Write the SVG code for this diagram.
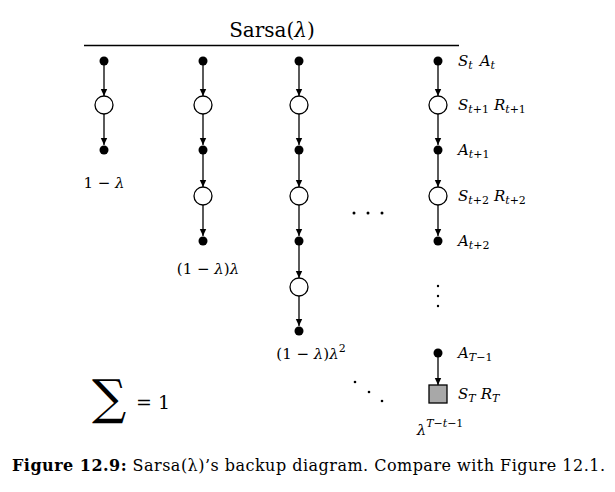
<svg xmlns="http://www.w3.org/2000/svg" width="615" height="492" viewBox="0 0 615 492">
<style>
.dot{fill:#000}
.st{fill:#fff;stroke:#000;stroke-width:1.3}
.term{fill:#a8a8a8;stroke:#000;stroke-width:1.3}
.edge{stroke:#000;stroke-width:1.3;fill:none;marker-end:url(#ah)}
text{font-family:"DejaVu Serif","Liberation Serif",serif;fill:#000}
.lab{font-size:15px}
.m{font-style:italic}
.sub{font-size:11px;font-style:italic}
.subr{font-size:11px}
</style>
<defs>
<marker id="ah" markerWidth="8" markerHeight="8" refX="7" refY="4" orient="auto" markerUnits="userSpaceOnUse">
<path d="M0,0.8 L7,4 L0,7.2 Z" fill="#000"/>
</marker>
</defs>

<text x="272" y="37" font-size="20" text-anchor="middle">Sarsa(<tspan class="m">λ</tspan>)</text>
<line x1="84" y1="45.5" x2="459" y2="45.5" stroke="#000" stroke-width="1.3"/>

<g id="connectors">
<line class="edge" x1="104" y1="65" x2="104" y2="96"/>
<line class="edge" x1="104" y1="114" x2="104" y2="145"/>
<line class="edge" x1="203" y1="65" x2="203" y2="96"/>
<line class="edge" x1="203" y1="114" x2="203" y2="145"/>
<line class="edge" x1="203" y1="154" x2="203" y2="187"/>
<line class="edge" x1="203" y1="205" x2="203" y2="236"/>
<line class="edge" x1="299" y1="65" x2="299" y2="96"/>
<line class="edge" x1="299" y1="114" x2="299" y2="145"/>
<line class="edge" x1="299" y1="154" x2="299" y2="187"/>
<line class="edge" x1="299" y1="205" x2="299" y2="236"/>
<line class="edge" x1="299" y1="245" x2="299" y2="278"/>
<line class="edge" x1="299" y1="296" x2="299" y2="326"/>
<line class="edge" x1="438" y1="65" x2="438" y2="96"/>
<line class="edge" x1="438" y1="114" x2="438" y2="145"/>
<line class="edge" x1="438" y1="154" x2="438" y2="187"/>
<line class="edge" x1="438" y1="205" x2="438" y2="236"/>
<line class="edge" x1="438" y1="357" x2="438" y2="385"/>
</g>

<g id="col1">
<circle class="dot" cx="104" cy="61" r="4.5"/>
<circle class="st" cx="104" cy="105" r="9"/>
<circle class="dot" cx="104" cy="150" r="4.5"/>
<text class="lab" x="104" y="188" text-anchor="middle">1 − <tspan class="m">λ</tspan></text>
</g>

<g id="col2">
<circle class="dot" cx="203" cy="61" r="4.5"/>
<circle class="st" cx="203" cy="105" r="9"/>
<circle class="dot" cx="203" cy="150" r="4.5"/>
<circle class="st" cx="203" cy="196" r="9"/>
<circle class="dot" cx="203" cy="241" r="4.5"/>
<text class="lab" x="208" y="274" text-anchor="middle">(1 − <tspan class="m">λ</tspan>)<tspan class="m">λ</tspan></text>
</g>

<g id="col3">
<circle class="dot" cx="299" cy="61" r="4.5"/>
<circle class="st" cx="299" cy="105" r="9"/>
<circle class="dot" cx="299" cy="150" r="4.5"/>
<circle class="st" cx="299" cy="196" r="9"/>
<circle class="dot" cx="299" cy="241" r="4.5"/>
<circle class="st" cx="299" cy="287" r="9"/>
<circle class="dot" cx="299" cy="331" r="4.5"/>
<text class="lab" x="311" y="359" text-anchor="middle">(1 − <tspan class="m">λ</tspan>)<tspan class="m">λ</tspan><tspan class="subr" dy="-7">2</tspan></text>
</g>

<g id="ellipsis">
<circle class="dot" cx="354" cy="213" r="1.5"/>
<circle class="dot" cx="368" cy="213" r="1.5"/>
<circle class="dot" cx="382" cy="213" r="1.5"/>
<circle class="dot" cx="438" cy="286" r="1.2"/>
<circle class="dot" cx="438" cy="296" r="1.2"/>
<circle class="dot" cx="438" cy="306" r="1.2"/>
<circle class="dot" cx="355" cy="382" r="1.3"/>
<circle class="dot" cx="369" cy="392" r="1.3"/>
<circle class="dot" cx="382" cy="401" r="1.3"/>
</g>

<g id="col4">
<circle class="dot" cx="438" cy="61" r="4.5"/>
<text class="lab" x="458" y="66"><tspan class="m">S</tspan><tspan class="sub" dy="3">t</tspan><tspan class="m" dx="7" dy="-3">A</tspan><tspan class="sub" dy="3">t</tspan></text>
<circle class="st" cx="438" cy="105" r="9"/>
<text class="lab" x="458" y="110"><tspan class="m">S</tspan><tspan class="sub" dy="3">t</tspan><tspan class="subr">+1</tspan><tspan class="m" dx="5" dy="-3">R</tspan><tspan class="sub" dy="3">t</tspan><tspan class="subr">+1</tspan></text>
<circle class="dot" cx="438" cy="150" r="4.5"/>
<text class="lab" x="458" y="155"><tspan class="m">A</tspan><tspan class="sub" dy="3">t</tspan><tspan class="subr">+1</tspan></text>
<circle class="st" cx="438" cy="196" r="9"/>
<text class="lab" x="458" y="201"><tspan class="m">S</tspan><tspan class="sub" dy="3">t</tspan><tspan class="subr">+2</tspan><tspan class="m" dx="5" dy="-3">R</tspan><tspan class="sub" dy="3">t</tspan><tspan class="subr">+2</tspan></text>
<circle class="dot" cx="438" cy="241" r="4.5"/>
<text class="lab" x="458" y="246"><tspan class="m">A</tspan><tspan class="sub" dy="3">t</tspan><tspan class="subr">+2</tspan></text>
<circle class="dot" cx="438" cy="353" r="4.5"/>
<text class="lab" x="458" y="358"><tspan class="m">A</tspan><tspan class="sub" dy="3">T</tspan><tspan class="subr">−1</tspan></text>
<rect class="term" x="429" y="385" width="18" height="18"/>
<text class="lab" x="458" y="399"><tspan class="m">S</tspan><tspan class="sub" dy="3">T</tspan><tspan class="m" dx="5" dy="-3">R</tspan><tspan class="sub" dy="3">T</tspan></text>
<text class="lab" x="440" y="435" text-anchor="middle"><tspan class="m">λ</tspan><tspan class="sub" dy="-8">T</tspan><tspan class="subr">−</tspan><tspan class="sub">t</tspan><tspan class="subr">−1</tspan></text>
</g>

<text x="92" y="414" font-size="48">∑</text>
<text x="136" y="409" font-size="19">= 1</text>

<text x="12" y="471" font-size="16" textLength="593" lengthAdjust="spacing"><tspan font-weight="bold">Figure 12.9:</tspan> Sarsa(λ)’s backup diagram. Compare with Figure 12.1.</text>
</svg>
